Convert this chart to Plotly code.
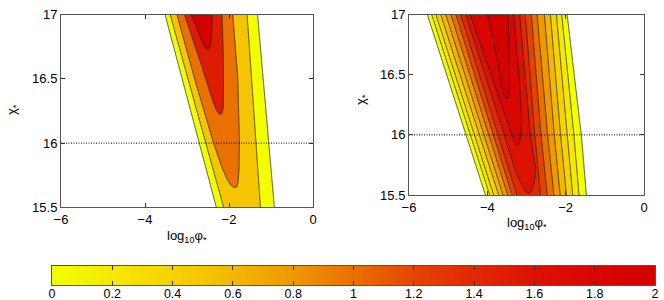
import numpy as np
import plotly.graph_objects as go

# ---------------- values ----------------
# colour bar: value -> colour
cbar_values = [0, 0.2, 0.4, 0.6, 0.8, 1.0, 1.2, 1.4, 1.6, 1.8, 2.0]
cbar_colors = ["#f2ff00", "#f5e800", "#f5d200", "#f2b800", "#ef9800", "#ea7000",
               "#e54400", "#e12800", "#dc1200", "#d80500", "#d40000"]
cbar_ticktext = ["0", "0.2", "0.4", "0.6", "0.8", "1", "1.2", "1.4", "1.6", "1.8", "2"]

x_ticks = [-6, -4, -2, 0]
x_ticktext = ["\u22126", "\u22124", "\u22122", "0"]
y_ticks = [15.5, 16, 16.5, 17]
y_ticktext = ["15.5", "16", "16.5", "17"]
chi_ref = 16.0

# ---- left panel: contour levels and traced contour lines (chi, log10 phi) ----
L_levels = [0.0, 0.5, 1.0, 1.5, 2.0]
L_left_chi = [
    [15.5, 17.0],
    [15.5, 17.0],
    [15.65, 15.66, 15.68, 15.72, 15.80, 16.0, 16.5, 17.0],
    [16.22, 16.23, 16.26, 16.34, 16.6, 17.0],
    [16.73, 16.735, 16.76, 16.85, 17.0],
]
L_left_x = [
    [-2.30, -3.52],
    [-2.13, -3.40],
    [-1.86, -1.92, -1.98, -2.05, -2.16, -2.37, -2.82, -3.24],
    [-2.21, -2.25, -2.31, -2.40, -2.65, -3.06],
    [-2.50, -2.55, -2.61, -2.72, -2.90],
]
L_right_chi = [
    [15.5, 17.0],
    [15.5, 17.0],
    [15.65, 15.66, 15.70, 15.80, 16.0, 16.5, 17.0],
    [16.22, 16.23, 16.27, 16.34, 16.6, 17.0],
    [16.73, 16.735, 16.77, 16.85, 17.0],
]
L_right_x = [
    [-0.92, -1.32],
    [-1.25, -1.568],
    [-1.86, -1.81, -1.78, -1.76, -1.75, -1.79, -1.91],
    [-2.21, -2.17, -2.14, -2.13, -2.13, -2.165],
    [-2.50, -2.46, -2.43, -2.41, -2.40],
]
L_peak_chi = [15.5, 15.65, 16.22, 16.73, 17.0]
L_peak_x = [-1.80, -1.86, -2.21, -2.50, -2.64]
L_peak_z = [0.87, 1.0, 1.5, 2.0, 2.25]

# ---- right panel ----
R_levels = [0.0, 0.2, 0.4, 0.6, 0.8, 1.0, 1.2, 1.4, 1.6, 1.8, 2.0]
R_left_chi = [
    [15.5, 17.0], [15.5, 17.0], [15.5, 17.0], [15.5, 17.0],
    [15.5, 17.0], [15.5, 17.0], [15.5, 17.0], [15.5, 17.0],
    [15.51, 15.53, 15.58, 15.65, 15.725, 16.0, 17.0],
    [15.91, 15.93, 15.96, 16.0, 16.12, 17.0],
    [16.30, 16.32, 16.4, 16.57, 16.8, 17.0],
]
R_left_x = [
    [-4.05, -5.53], [-3.94, -5.42], [-3.84, -5.31], [-3.71, -5.19],
    [-3.60, -5.06], [-3.48, -4.93], [-3.37, -4.80], [-3.25, -4.68],
    [-2.945, -3.03, -3.12, -3.22, -3.31, -3.57, -4.55],
    [-3.24, -3.29, -3.33, -3.37, -3.50, -4.44],
    [-3.50, -3.57, -3.64, -3.72, -3.85, -3.99],
]
R_right_chi = [
    [15.5, 16.0, 17.0], [15.5, 16.0, 17.0], [15.5, 16.0, 17.0], [15.5, 16.0, 17.0],
    [15.5, 16.0, 17.0], [15.5, 16.0, 17.0], [15.5, 16.0, 17.0], [15.5, 16.0, 17.0],
    [15.51, 15.53, 15.6, 15.725, 16.0, 17.0],
    [15.91, 15.93, 16.0, 16.12, 16.5, 17.0],
    [16.30, 16.32, 16.45, 16.7, 17.0],
]
R_right_x = [
    [-1.47, -1.60, -1.962], [-1.66, -1.79, -2.10], [-1.82, -1.96, -2.236],
    [-1.98, -2.13, -2.39], [-2.14, -2.29, -2.543], [-2.30, -2.46, -2.73],
    [-2.47, -2.63, -2.876], [-2.64, -2.79, -3.03],
    [-2.945, -2.87, -2.80, -2.76, -2.90, -3.175],
    [-3.24, -3.18, -3.14, -3.12, -3.19, -3.33],
    [-3.50, -3.45, -3.43, -3.44, -3.48],
]
R_peak_chi = [15.5, 15.51, 15.91, 16.30, 17.0]
R_peak_x = [-2.94, -2.945, -3.24, -3.50, -3.75]
R_peak_z = [1.595, 1.6, 1.8, 2.0, 2.35]


# ---------------- helpers ----------------
def hex2rgb(h):
    h = h.lstrip("#")
    return np.array([int(h[i:i + 2], 16) for i in (0, 2, 4)], dtype=float)


def cmap(v):
    rgb = [np.interp(v, cbar_values, [hex2rgb(c)[k] for c in cbar_colors]) for k in range(3)]
    return "rgb(%d,%d,%d)" % tuple(int(round(c)) for c in rgb)


def band_scale(levels):
    # plotly samples band k at normalised position (k+1)/n; background at 0
    n = len(levels)
    return [[0.0, "white"]] + [[(k + 1) / n, cmap(levels[k])] for k in range(n)]


def build_field(xg, yg, levels, lc, lx, rc, rx, pc, px, pz):
    Z = np.empty((len(yg), len(xg)))
    for i, y in enumerate(yg):
        xs, zs = [], []
        for L, a, b, c, d in zip(levels, lc, lx, rc, rx):
            if y < a[0]:
                continue
            xs += [np.interp(y, a, b), np.interp(y, c, d)]
            zs += [L, L]
        xs.append(np.interp(y, pc, px))
        zs.append(np.interp(y, pc, pz))
        o = np.argsort(xs)
        xs = np.array(xs)[o]
        zs = np.array(zs)[o]
        xs = np.concatenate([[xs[0] - 0.4], xs, [xs[-1] + 0.4]])
        zs = np.concatenate([[-0.5], zs, [-0.5]])
        Z[i] = np.interp(xg, xs, zs, left=-0.5, right=-0.5)
    return np.round(Z, 4)


xg = np.linspace(-6, 0, 481)
yg = np.linspace(15.5, 17, 151)
ZL = build_field(xg, yg, L_levels, L_left_chi, L_left_x, L_right_chi, L_right_x,
                 L_peak_chi, L_peak_x, L_peak_z)
ZR = build_field(xg, yg, R_levels, R_left_chi, R_left_x, R_right_chi, R_right_x,
                 R_peak_chi, R_peak_x, R_peak_z)

W, H = 664, 300
FONT = "Liberation Sans, Arial, Helvetica, sans-serif"
line_col = "#262626"

fig = go.Figure()
fig.add_trace(go.Contour(
    x=xg, y=yg, z=ZL, xaxis="x", yaxis="y", autocontour=False,
    contours=dict(start=L_levels[0], end=L_levels[-1], size=L_levels[1] - L_levels[0],
                  coloring="fill", showlines=True),
    colorscale=band_scale(L_levels), showscale=False,
    line=dict(color=line_col, width=0.8, smoothing=0.5), hoverinfo="skip"))
fig.add_trace(go.Contour(
    x=xg, y=yg, z=ZR, xaxis="x2", yaxis="y2", autocontour=False,
    contours=dict(start=R_levels[0], end=R_levels[-1], size=0.2,
                  coloring="fill", showlines=True),
    colorscale=band_scale(R_levels), showscale=False,
    line=dict(color=line_col, width=0.8, smoothing=0.5), hoverinfo="skip"))

for xa, ya in (("x", "y"), ("x2", "y2")):
    fig.add_trace(go.Scatter(x=[x_ticks[0], x_ticks[-1]], y=[chi_ref, chi_ref], mode="lines",
                             xaxis=xa, yaxis=ya, hoverinfo="skip",
                             line=dict(color="black", width=1, dash="1px,1.5px")))

# colour bar drawn as a strip
cb_x = np.linspace(cbar_values[0], cbar_values[-1], 401)
fig.add_trace(go.Heatmap(
    x=cb_x, y=[0, 1], z=[cb_x, cb_x], xaxis="x3", yaxis="y3",
    colorscale=[[v / 2.0, c] for v, c in zip(cbar_values, cbar_colors)],
    zmin=0, zmax=2, showscale=False, hoverinfo="skip"))

axis_common = dict(showline=True, linecolor="#555555", linewidth=1, mirror="allticks",
                   ticks="inside", ticklen=4, tickcolor="#333333", showgrid=False,
                   zeroline=False, automargin=False,
                   tickfont=dict(family=FONT, size=13, color="black"))


def px_x(p):
    return p / W


def px_y(p):
    return 1 - p / H


fig.update_layout(
    width=W, height=H, margin=dict(l=0, r=0, t=0, b=0, pad=0),
    paper_bgcolor="white", plot_bgcolor="white", showlegend=False,
    font=dict(family=FONT, size=13, color="black"),
    xaxis=dict(axis_common, domain=[px_x(61), px_x(313)], range=[-6, 0], anchor="y",
               tickvals=x_ticks, ticktext=x_ticktext),
    yaxis=dict(axis_common, domain=[px_y(207.3), px_y(14.7)], range=[15.5, 17], anchor="x",
               tickvals=y_ticks, ticktext=y_ticktext),
    xaxis2=dict(axis_common, domain=[px_x(409), px_x(644)], range=[-6, 0], anchor="y2",
                tickvals=x_ticks, ticktext=x_ticktext),
    yaxis2=dict(axis_common, domain=[px_y(195), px_y(14.7)], range=[15.5, 17], anchor="x2",
                tickvals=y_ticks, ticktext=y_ticktext),
    xaxis3=dict(axis_common, domain=[px_x(52), px_x(655)], range=[0, 2], anchor="y3",
                tickvals=cbar_values, ticktext=cbar_ticktext, ticklabelstandoff=-3,
                tickfont=dict(family=FONT, size=12.5, color="black")),
    yaxis3=dict(showline=True, linecolor="#555555", linewidth=1, mirror=True, ticks="",
                showticklabels=False, showgrid=False, zeroline=False, automargin=False,
                domain=[px_y(285), px_y(266)], range=[-0.5, 1.5], anchor="x3"),
)

xt = "log<sub>10</sub>\u03c6<sub>*</sub>"
yt = "\u03c7<sub>*</sub>"
ann = [
    dict(text=xt, x=px_x(187), y=px_y(236)),
    dict(text=yt, x=px_x(12), y=px_y(110), textangle=-90),
    dict(text=xt, x=px_x(527), y=px_y(223)),
    dict(text=yt, x=px_x(362), y=px_y(100), textangle=-90),
]
for a in ann:
    a.update(xref="paper", yref="paper", showarrow=False, xanchor="center", yanchor="middle",
             font=dict(family=FONT, size=13, color="black"))
fig.update_layout(annotations=ann)

fig.write_html("out.html", config={"displayModeBar": False},
               post_script="document.body.style.margin='0';document.body.style.overflow='hidden';")
